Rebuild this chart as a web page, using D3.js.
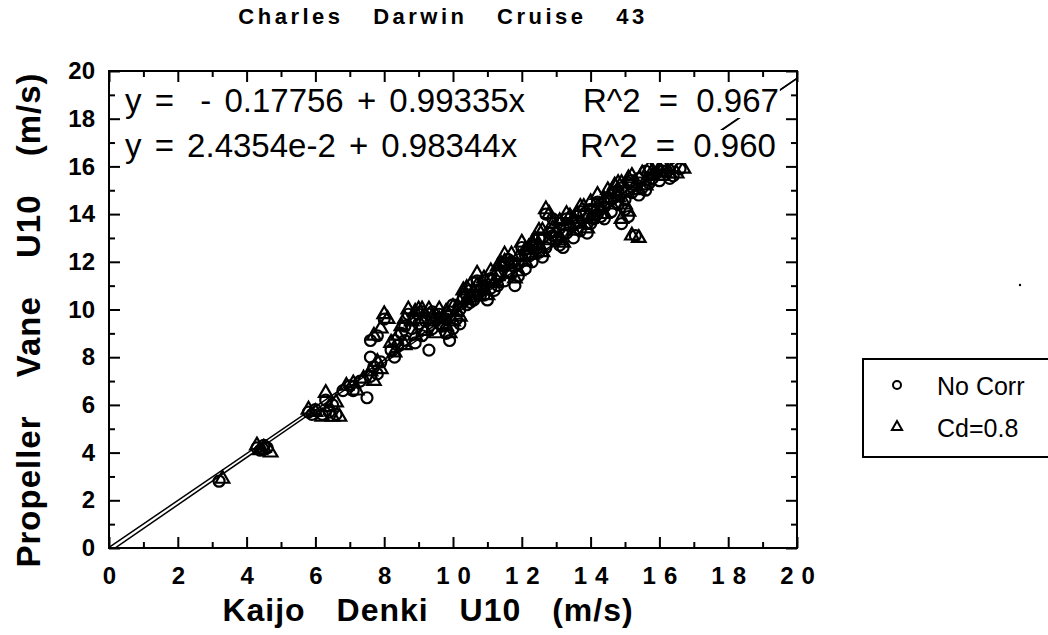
<!DOCTYPE html>
<html>
<head>
<meta charset="utf-8">
<script src="https://cdn.jsdelivr.net/npm/d3@7"></script>
<style>
body { margin: 0; background: #fff; }
svg { display: block; }
text { font-family: "Liberation Sans", Arial, Helvetica, sans-serif; fill: #000; white-space: pre; }
</style>
</head>
<body>
<svg width="1048" height="635"></svg>
<script>
var WIDTH = 1048;
var HEIGHT = 635;
var FONT = '"Liberation Sans", Arial, Helvetica, sans-serif';

// plot frame
var plotLeft = 109, plotRight = 797, plotTop = 71, plotBottom = 548;

// No Corr (circles): Kaijo Denki U10 vs Propeller Vane U10
var kaijoNoCorr = [3.2, 4.3, 4.4, 4.5, 4.6, 5.8, 5.9, 6.0, 6.2, 6.3, 6.4, 6.5, 6.6,
    6.8, 7.0, 7.1, 7.3, 7.5, 7.6, 7.7, 7.8, 7.9, 7.6, 7.8, 7.6,
    8.0, 8.2, 8.3, 8.3, 8.4, 8.5, 8.6, 8.7, 8.8, 8.9, 9.0, 9.0, 9.1, 9.2, 9.3, 9.3, 9.4, 9.5, 9.6, 9.7, 9.8, 9.9, 10.0, 10.1, 10.2,
    10.3, 10.4, 10.5, 10.6, 10.7, 10.8, 10.9, 11.0, 11.1, 11.2, 11.3, 11.4, 11.5, 11.6, 11.7, 11.8, 11.9, 12.0, 12.1, 12.2, 12.3, 12.4,
    12.5, 12.6, 12.7, 12.7, 12.8, 12.9, 13.0, 13.1, 13.2, 13.3, 13.4, 13.5, 13.6, 13.7, 13.8, 13.9, 14.0, 14.1, 14.2, 14.3, 14.4,
    14.5, 14.6, 14.7, 14.8, 14.9, 15.0, 15.1, 15.2, 15.3, 15.4, 15.5, 15.6, 15.7, 15.9, 16.0, 16.2, 16.4, 16.6,
    8.6, 8.9, 9.1, 9.4, 9.6, 9.8, 9.9, 10.0, 10.2, 10.4, 10.5, 10.7, 10.9, 11.1, 11.3, 11.5, 11.7, 11.9, 12.1, 12.3, 12.5,
    12.6, 12.9, 13.1, 13.3, 13.5, 13.7, 13.9, 14.0, 14.2, 14.4, 14.6, 14.8, 15.0, 15.2, 15.4, 15.6, 15.8, 16.1, 16.3, 14.9, 15.1];
var vaneNoCorr = [2.8, 4.2, 4.1, 4.3, 4.2, 5.7, 5.6, 5.8, 5.6, 6.2, 5.7, 6.0, 5.6,
    6.6, 6.8, 6.6, 7.0, 6.3, 7.2, 7.6, 7.3, 7.8, 8.7, 8.9, 8.0,
    9.6, 8.3, 8.0, 8.7, 8.5, 9.0, 8.7, 9.8, 9.2, 8.6, 9.4, 9.8, 8.9, 9.5, 8.3, 9.8, 9.2, 9.6, 9.8, 9.3, 9.0, 8.7, 9.2, 9.6, 10.0,
    10.5, 10.2, 10.8, 10.4, 11.2, 10.6, 11.0, 10.4, 11.3, 10.8, 11.0, 11.6, 11.2, 12.1, 11.5, 11.0, 11.9, 12.6, 11.7, 12.3, 12.0, 12.7,
    12.4, 13.0, 14.0, 12.6, 13.2, 13.8, 12.9, 13.4, 12.6, 13.2, 13.5, 13.0, 13.7, 13.3, 14.0, 13.6, 14.2, 13.8, 14.5, 13.9, 14.3,
    14.7, 14.1, 14.9, 14.4, 15.1, 14.6, 15.3, 14.9, 13.1, 15.5, 15.1, 15.8, 15.3, 15.7, 15.4, 15.8, 15.6, 15.9,
    9.3, 9.6, 9.9, 9.9, 9.4, 9.6, 9.9, 10.2, 9.4, 10.6, 10.3, 10.8, 10.6, 10.9, 11.5, 11.8, 12.0, 11.4, 12.3, 12.6, 13.0,
    12.2, 13.1, 12.7, 13.8, 13.6, 14.1, 13.2, 13.6, 14.0, 13.8, 14.6, 15.0, 14.2, 15.4, 14.8, 15.0, 15.5, 15.8, 15.5, 13.6, 13.9];

// Cd=0.8 (triangles)
var kaijoCd = [3.3, 4.3, 4.5, 4.7, 4.4, 5.8, 6.0, 6.2, 6.3, 6.4, 6.5, 6.7, 6.6,
    6.9, 7.1, 7.2, 7.4, 7.6, 7.7, 7.8, 7.9, 7.7, 7.9, 8.0, 8.1,
    8.2, 8.3, 8.4, 8.5, 8.6, 8.7, 8.8, 8.9, 9.0, 9.1, 9.2, 9.3, 9.4, 9.5, 9.6, 9.7, 9.8, 9.9, 10.0, 10.1, 10.2,
    10.3, 10.4, 10.5, 10.6, 10.7, 10.8, 10.9, 11.0, 11.1, 11.2, 11.3, 11.4, 11.5, 11.6, 11.7, 11.8, 11.9, 12.0, 12.1, 12.2, 12.3, 12.4,
    12.5, 12.6, 12.7, 12.8, 12.8, 12.9, 13.0, 13.1, 13.2, 13.3, 13.4, 13.5, 13.6, 13.7, 13.8, 13.9, 14.0, 14.1, 14.2, 14.3, 14.4,
    14.5, 14.6, 14.7, 14.8, 14.9, 15.0, 15.1, 15.2, 15.3, 15.4, 15.5, 15.6, 15.7, 15.8, 16.0, 16.1, 16.3, 16.5, 16.7,
    8.6, 8.9, 9.1, 9.4, 9.6, 9.8, 10.0, 10.2, 10.4, 10.5, 10.7, 10.9, 11.1, 11.3, 11.5, 11.7, 11.9, 12.1, 12.3, 12.5,
    12.6, 12.9, 13.1, 13.3, 13.5, 13.7, 13.9, 14.0, 14.2, 14.4, 14.6, 14.8, 15.0, 15.2, 15.4, 15.6, 15.8, 16.1, 16.3, 14.9, 15.1];
var vaneCd = [2.9, 4.3, 4.2, 4.0, 4.1, 5.8, 5.7, 5.5, 6.5, 5.9, 5.5, 5.5, 6.1,
    6.8, 6.9, 6.6, 7.1, 7.4, 7.0, 7.8, 7.5, 8.9, 9.2, 9.8, 9.6,
    8.6, 8.2, 8.9, 9.3, 8.5, 10.0, 9.5, 8.9, 10.0, 9.6, 9.1, 10.0, 9.5, 9.0, 10.0, 9.6, 9.3, 9.0, 9.5, 9.9, 10.3,
    10.8, 10.4, 11.0, 10.7, 11.5, 10.9, 11.3, 10.6, 11.6, 11.1, 11.4, 11.9, 12.3, 11.5, 11.8, 11.3, 12.2, 12.8, 12.0, 12.6, 12.3, 12.9,
    12.7, 13.3, 14.2, 14.0, 12.9, 13.6, 13.2, 13.7, 12.8, 13.5, 13.9, 13.3, 14.0, 13.6, 14.3, 13.9, 14.5, 14.1, 14.8, 14.2, 14.6,
    15.0, 14.4, 15.2, 14.7, 15.3, 14.9, 15.5, 13.1, 15.2, 13.0, 15.7, 15.4, 15.9, 15.6, 15.9, 15.6, 15.9, 15.7, 15.9,
    9.6, 9.9, 10.0, 9.7, 9.6, 9.9, 10.1, 9.7, 10.9, 10.5, 11.0, 10.8, 11.2, 11.8, 12.0, 12.3, 11.6, 12.5, 12.8, 13.3,
    12.4, 13.4, 12.9, 14.0, 13.8, 14.3, 13.4, 13.8, 14.3, 14.0, 14.9, 15.3, 14.4, 15.6, 15.0, 15.2, 15.8, 16.0, 15.7, 13.8, 14.1];

// regression fits
var fitIntercepts = [-0.17756, 2.4354e-2];
var fitSlopes = [0.99335, 0.98344];
var eqLabels = ['y =  - 0.17756 + 0.99335x', 'y = 2.4354e-2 + 0.98344x'];
var r2Labels = ['R^2 = 0.967', 'R^2 = 0.960'];

var xTickValues = [0, 2, 4, 6, 8, 10, 12, 14, 16, 18, 20];
var yTickValues = [0, 2, 4, 6, 8, 10, 12, 14, 16, 18, 20];
var minorTickValues = [1, 3, 5, 7, 9, 11, 13, 15, 17, 19];
var legendLabels = ['No Corr', 'Cd=0.8'];

var svg = d3.select('svg').attr('width', WIDTH).attr('height', HEIGHT);

var x = d3.scaleLinear().domain([0, 20]).range([plotLeft, plotRight]);
var y = d3.scaleLinear().domain([0, 20]).range([plotBottom, plotTop]);

svg.append('clipPath').attr('id', 'plotclip')
    .append('rect')
    .attr('x', plotLeft).attr('y', plotTop)
    .attr('width', plotRight - plotLeft).attr('height', plotBottom - plotTop);

// axes: major + minor ticks on all four sides, pointing inward
function styleAxis(g) {
    g.select('.domain').remove();
    g.attr('font-family', FONT).attr('font-size', 24).attr('font-weight', 'bold');
    g.selectAll('line').attr('stroke', '#000').attr('stroke-width', 2);
}
function noLabels(g) {
    styleAxis(g);
    g.selectAll('text').remove();
}

svg.append('g').attr('transform', 'translate(0,' + plotBottom + ')')
    .call(d3.axisBottom(x).tickValues(xTickValues).tickSize(-11).tickPadding(19).tickFormat(d3.format('d')))
    .call(styleAxis)
    .selectAll('text')
    .each(function(d) {
        if (d >= 10) d3.select(this).attr('letter-spacing', 8).attr('dx', 4);
    });
svg.append('g').attr('transform', 'translate(0,' + plotBottom + ')')
    .call(d3.axisBottom(x).tickValues(minorTickValues).tickSize(-6))
    .call(noLabels);
svg.append('g').attr('transform', 'translate(0,' + plotTop + ')')
    .call(d3.axisTop(x).tickValues(xTickValues).tickSize(-11))
    .call(noLabels);
svg.append('g').attr('transform', 'translate(0,' + plotTop + ')')
    .call(d3.axisTop(x).tickValues(minorTickValues).tickSize(-6))
    .call(noLabels);

svg.append('g').attr('transform', 'translate(' + plotLeft + ',0)')
    .call(d3.axisLeft(y).tickValues(yTickValues).tickSize(-11).tickPadding(14).tickFormat(d3.format('d')))
    .call(styleAxis);
svg.append('g').attr('transform', 'translate(' + plotLeft + ',0)')
    .call(d3.axisLeft(y).tickValues(minorTickValues).tickSize(-6))
    .call(noLabels);
svg.append('g').attr('transform', 'translate(' + plotRight + ',0)')
    .call(d3.axisRight(y).tickValues(yTickValues).tickSize(-11))
    .call(noLabels);
svg.append('g').attr('transform', 'translate(' + plotRight + ',0)')
    .call(d3.axisRight(y).tickValues(minorTickValues).tickSize(-6))
    .call(noLabels);

// regression lines
var lineGen = d3.line().x(function(d) { return x(d[0]); }).y(function(d) { return y(d[1]); });
fitSlopes.forEach(function(m, i) {
    var b = fitIntercepts[i];
    svg.append('path')
        .attr('d', lineGen([[0, b], [20, b + m * 20]]))
        .attr('clip-path', 'url(#plotclip)')
        .attr('fill', 'none')
        .attr('stroke', '#000')
        .attr('stroke-width', 1.5);
});

// points
var noCorr = kaijoNoCorr.map(function(v, i) { return [v, vaneNoCorr[i]]; });
var cd = kaijoCd.map(function(v, i) { return [v, vaneCd[i]]; });
var triangle = d3.symbol().type(d3.symbolTriangle).size(80);

svg.append('g').selectAll('path')
    .data(cd)
    .enter()
    .append('path')
    .attr('d', triangle)
    .attr('transform', function(d) { return 'translate(' + x(d[0]) + ',' + y(d[1]) + ')'; })
    .attr('fill', 'none').attr('stroke', '#000').attr('stroke-width', 2.2);

svg.append('g').selectAll('circle')
    .data(noCorr)
    .enter()
    .append('circle')
    .attr('cx', function(d) { return x(d[0]); })
    .attr('cy', function(d) { return y(d[1]); })
    .attr('r', 5.5)
    .attr('fill', 'none').attr('stroke', '#000').attr('stroke-width', 2.2);

// equations, on white boxes that hide the fit lines behind them
var eqBaselines = [112, 157];
var r2X = [583, 580];
eqLabels.forEach(function(label, i) {
    var g = svg.append('g');
    var bg = g.append('rect').attr('fill', '#fff');
    g.append('text').attr('x', 125).attr('y', eqBaselines[i])
        .attr('font-size', 33).attr('word-spacing', 4).text(label);
    var t2 = g.append('text').attr('x', r2X[i]).attr('y', eqBaselines[i])
        .attr('font-size', 33).attr('word-spacing', 9).text(r2Labels[i]);
    var b2 = t2.node().getBBox();
    bg.attr('x', 122).attr('y', eqBaselines[i] - 27)
        .attr('width', b2.x + b2.width - 122 + 1).attr('height', 33);
});

// frame
svg.append('rect')
    .attr('x', plotLeft).attr('y', plotTop)
    .attr('width', plotRight - plotLeft).attr('height', plotBottom - plotTop)
    .attr('fill', 'none').attr('stroke', '#000').attr('stroke-width', 2);

// titles
svg.append('text')
    .attr('x', 443).attr('y', 24)
    .attr('text-anchor', 'middle')
    .attr('font-size', 22).attr('font-weight', 'bold')
    .attr('letter-spacing', 3.5).attr('word-spacing', 20)
    .text('Charles Darwin Cruise 43');

svg.append('text')
    .attr('x', 428).attr('y', 621)
    .attr('text-anchor', 'middle')
    .attr('font-size', 32).attr('font-weight', 'bold')
    .attr('letter-spacing', 1).attr('word-spacing', 21)
    .text('Kaijo Denki U10 (m/s)');

svg.append('text')
    .attr('transform', 'translate(40,320) rotate(-90)')
    .attr('text-anchor', 'middle')
    .attr('font-size', 33).attr('font-weight', 'bold')
    .attr('letter-spacing', 1).attr('word-spacing', 28)
    .text('Propeller Vane U10 (m/s)');

// legend
var legend = svg.append('g');
legend.append('rect')
    .attr('x', 863).attr('y', 359).attr('width', 200).attr('height', 98)
    .attr('fill', '#fff').attr('stroke', '#000').attr('stroke-width', 2);
legendLabels.forEach(function(label, i) {
    var cy = 385 + i * 42;
    if (i === 0) {
        legend.append('circle').attr('cx', 897).attr('cy', cy).attr('r', 4)
            .attr('fill', 'none').attr('stroke', '#000').attr('stroke-width', 2);
    } else {
        legend.append('path').attr('d', d3.symbol().type(d3.symbolTriangle).size(45)())
            .attr('transform', 'translate(897,' + cy + ')')
            .attr('fill', 'none').attr('stroke', '#000').attr('stroke-width', 2);
    }
    legend.append('text').attr('x', 937).attr('y', cy + 10)
        .attr('font-size', 25).text(label);
});

// small speck above the legend
svg.append('circle').attr('cx', 1020).attr('cy', 285).attr('r', 1.2).attr('fill', '#000');
</script>
</body>
</html>
